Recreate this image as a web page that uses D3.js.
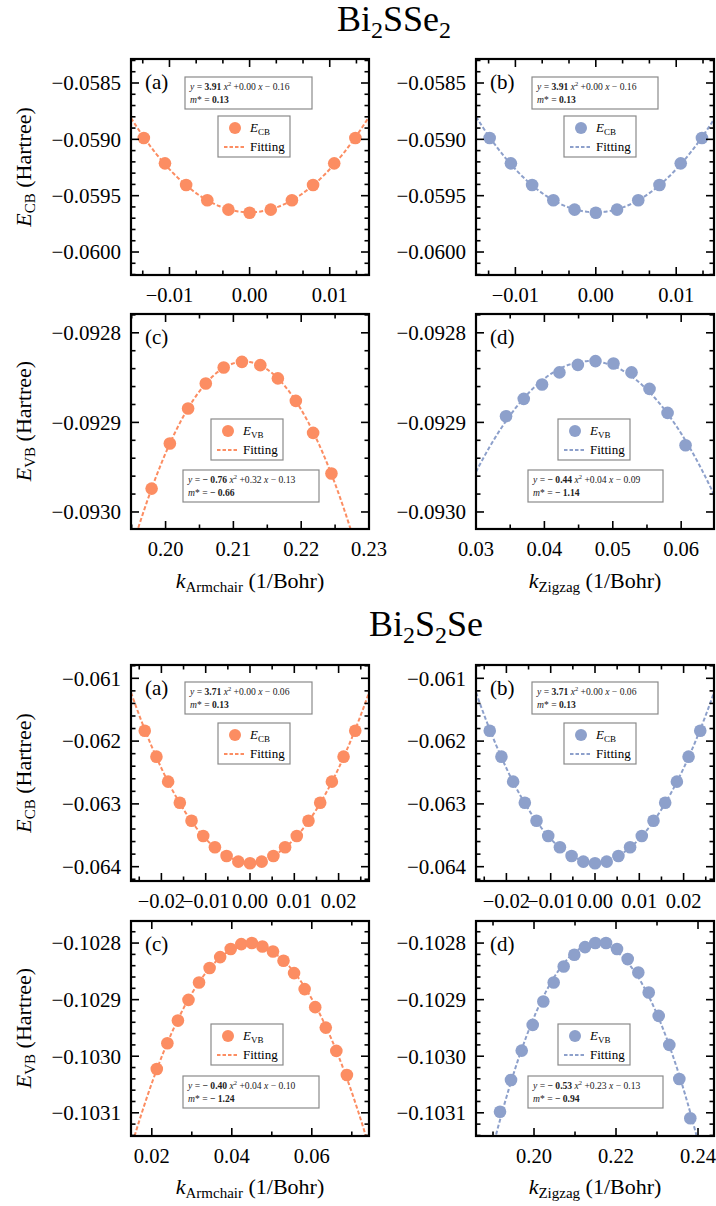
<!DOCTYPE html>
<html><head><meta charset="utf-8">
<script src="https://cdn.jsdelivr.net/npm/d3@7"></script>
<style>body{margin:0;background:#fff} svg{display:block} text{font-family:"Liberation Serif","Times New Roman",serif;fill:#000}</style>
</head><body><svg id="c" width="716" height="1206"></svg>
<script>
const ORANGE = "#FC8D62", BLUE = "#8DA0CB";

// ---------- Bi2SSe2 ----------
const kCB1 = [-0.0132, -0.01056, -0.00792, -0.00528, -0.00264, 0, 0.00264, 0.00528, 0.00792, 0.01056, 0.0132];
const eCB1 = [-0.058988, -0.059213, -0.059405, -0.059541, -0.059624, -0.059651, -0.059624, -0.059541, -0.059405, -0.059213, -0.058988];
const kVBarm1 = [0.19794, 0.20063, 0.20332, 0.20593, 0.20857, 0.21126, 0.21397, 0.21656, 0.21921, 0.22176, 0.22446];
const eVBarm1 = [-0.0929739, -0.0929236, -0.0928845, -0.0928565, -0.0928387, -0.0928324, -0.0928361, -0.0928509, -0.0928760, -0.0929117, -0.0929571];
const kVBzig1 = [0.03439, 0.03698, 0.03966, 0.04220, 0.04489, 0.04747, 0.05010, 0.05274, 0.05537, 0.05801, 0.06064];
const eVBzig1 = [-0.0928931, -0.0928737, -0.0928577, -0.0928442, -0.0928358, -0.0928316, -0.0928342, -0.0928442, -0.0928626, -0.0928894, -0.0929255];

// ---------- Bi2S2Se ----------
const kCB2 = [-0.02376, -0.02112, -0.01848, -0.01584, -0.0132, -0.01056, -0.00792, -0.00528, -0.00264, 0, 0.00264, 0.00528, 0.00792, 0.01056, 0.0132, 0.01584, 0.01848, 0.02112, 0.02376];
const eCB2 = [-0.061834, -0.062248, -0.062646, -0.062981, -0.063268, -0.063511, -0.063691, -0.063830, -0.063920, -0.063946, -0.063920, -0.063830, -0.063691, -0.063511, -0.063268, -0.062981, -0.062646, -0.062248, -0.061834];
const kVBarm2 = [0.02125, 0.02389, 0.02653, 0.02917, 0.03181, 0.03445, 0.03709, 0.03973, 0.04237, 0.04501, 0.04765, 0.05029, 0.05293, 0.05557, 0.05821, 0.06085, 0.06349, 0.06613, 0.06877];
const eVBarm2 = [-0.1030225, -0.1029770, -0.1029370, -0.1029004, -0.1028697, -0.1028442, -0.1028248, -0.1028106, -0.1028018, -0.1028000, -0.1028060, -0.1028149, -0.1028313, -0.1028531, -0.1028814, -0.1029133, -0.1029494, -0.1029906, -0.1030331];
const kVBzig2 = [0.19171, 0.19439, 0.19700, 0.19968, 0.20227, 0.20480, 0.20724, 0.20983, 0.21244, 0.21495, 0.21756, 0.22024, 0.22285, 0.22544, 0.22798, 0.23041, 0.23300, 0.23544, 0.23812];
const eVBzig2 = [-0.1030981, -0.1030419, -0.1029901, -0.1029446, -0.1029034, -0.1028697, -0.1028414, -0.1028207, -0.1028071, -0.1028000, -0.1028000, -0.1028106, -0.1028283, -0.1028520, -0.1028874, -0.1029287, -0.1029800, -0.1030402, -0.1031097];

// tick values
const yTicksCB1 = [-0.0600, -0.0595, -0.0590, -0.0585];
const yTicksVB1 = [-0.0930, -0.0929, -0.0928];
const xTicksCB1 = [-0.01, 0.00, 0.01];
const xTicksArm1 = [0.20, 0.21, 0.22, 0.23];
const xTicksZig1 = [0.03, 0.04, 0.05, 0.06];
const yTicksCB2 = [-0.064, -0.063, -0.062, -0.061];
const yTicksVB2 = [-0.1031, -0.1030, -0.1029, -0.1028];
const xTicksCB2 = [-0.02, -0.01, 0.00, 0.01, 0.02];
const xTicksArm2 = [0.02, 0.04, 0.06];
const xTicksZig2 = [0.20, 0.22, 0.24];

// fit equation texts [a, b, c, m*]
const eqCB1 = ["3.91", "+0.00", "\u2212 0.16", "0.13"];
const eqArm1 = ["\u2212 0.76", "+0.32", "\u2212 0.13", "\u2212 0.66"];
const eqZig1 = ["\u2212 0.44", "+0.04", "\u2212 0.09", "\u2212 1.14"];
const eqCB2 = ["3.71", "+0.00", "\u2212 0.06", "0.13"];
const eqArm2 = ["\u2212 0.40", "+0.04", "\u2212 0.10", "\u2212 1.24"];
const eqZig2 = ["\u2212 0.53", "+0.23", "\u2212 0.13", "\u2212 0.94"];

const svg = d3.select("#c");

function polyfit2(xs, ys) {
  const mx = d3.mean(xs), sx = d3.deviation(xs) || 1;
  const u = xs.map(x => (x - mx) / sx);
  const my = d3.mean(ys);
  const S = [0,0,0,0,0], T = [0,0,0];
  u.forEach((v, i) => {
    for (let p = 0; p < 5; p++) S[p] += Math.pow(v, p);
    for (let p = 0; p < 3; p++) T[p] += (ys[i] - my) * Math.pow(v, p);
  });
  const A = [[S[0],S[1],S[2],T[0]],[S[1],S[2],S[3],T[1]],[S[2],S[3],S[4],T[2]]];
  for (let i = 0; i < 3; i++) {
    for (let j = i + 1; j < 3; j++) {
      const f = A[j][i] / A[i][i];
      for (let k = i; k < 4; k++) A[j][k] -= f * A[i][k];
    }
  }
  const c = [0,0,0];
  for (let i = 2; i >= 0; i--) {
    let s = A[i][3];
    for (let k = i + 1; k < 3; k++) s -= A[i][k] * c[k];
    c[i] = s / A[i][i];
  }
  return x => { const v = (x - mx) / sx; return my + c[0] + c[1]*v + c[2]*v*v; };
}

let clipId = 0;
function panel(o) {
  const g = svg.append("g");
  const x = d3.scaleLinear().domain(o.xd).range([o.x0, o.x0 + o.w]);
  const y = d3.scaleLinear().domain(o.yd).range([o.y0 + o.h, o.y0]);
  const id = "clip" + (clipId++);
  svg.append("clipPath").attr("id", id).append("rect")
    .attr("x", o.x0).attr("y", o.y0).attr("width", o.w).attr("height", o.h);
  const plot = g.append("g").attr("clip-path", `url(#${id})`);
  const f = polyfit2(o.k, o.e);
  const xs = d3.range(0, 201).map(i => o.xd[0] + (o.xd[1] - o.xd[0]) * i / 200);
  plot.append("path").datum(xs)
    .attr("d", d3.line().x(d => x(d)).y(d => y(f(d))))
    .attr("fill", "none").attr("stroke", o.color).attr("stroke-width", 2)
    .attr("stroke-dasharray", "4,2.2");
  plot.selectAll("circle").data(o.k.map((k, i) => [k, o.e[i]])).enter().append("circle")
    .attr("cx", d => x(d[0])).attr("cy", d => y(d[1])).attr("r", 6.3).attr("fill", o.color);

  // ticks
  const tg = g.append("g").attr("stroke", "#000").attr("stroke-width", 1.6);
  const minorX = d3.range(Math.ceil(o.xd[0] / o.xm - 1e-6), Math.floor(o.xd[1] / o.xm + 1e-6) + 1).map(i => i * o.xm);
  const minorY = d3.range(Math.ceil(o.yd[0] / o.ym - 1e-6), Math.floor(o.yd[1] / o.ym + 1e-6) + 1).map(i => i * o.ym);
  const isMajor = (v, arr, step) => arr.some(t => Math.abs(t - v) < step * 0.01);
  const ML = 8, mL = 4.5;
  minorX.forEach(v => {
    const L = isMajor(v, o.xt, o.xm) ? ML : mL;
    const px = x(v);
    tg.append("line").attr("x1", px).attr("x2", px).attr("y1", o.y0 + o.h).attr("y2", o.y0 + o.h - L);
    tg.append("line").attr("x1", px).attr("x2", px).attr("y1", o.y0).attr("y2", o.y0 + L);
  });
  minorY.forEach(v => {
    const L = isMajor(v, o.yt, o.ym) ? ML : mL;
    const py = y(v);
    tg.append("line").attr("y1", py).attr("y2", py).attr("x1", o.x0).attr("x2", o.x0 + L);
    tg.append("line").attr("y1", py).attr("y2", py).attr("x1", o.x0 + o.w).attr("x2", o.x0 + o.w - L);
  });
  g.append("rect").attr("x", o.x0).attr("y", o.y0).attr("width", o.w).attr("height", o.h)
    .attr("fill", "none").attr("stroke", "#000").attr("stroke-width", 2.2);

  // tick labels
  const fy = d3.format(o.yf), fx = d3.format(o.xf);
  o.yt.forEach(v => {
    g.append("text").attr("x", o.x0 - 10).attr("y", y(v)).attr("dy", "0.35em")
      .attr("text-anchor", "end").attr("font-size", 21).text(fy(v));
  });
  o.xt.forEach(v => {
    g.append("text").attr("x", x(v)).attr("y", o.y0 + o.h + 27)
      .attr("text-anchor", "middle").attr("font-size", 20.5).text(fx(v));
  });

  // panel label
  g.append("text").attr("x", o.x0 + 14).attr("y", o.y0 + 30).attr("font-size", 21).text(o.label);

  // equation box
  const eb = g.append("g").attr("transform", `translate(${o.x0 + o.eq[0]},${o.y0 + o.eq[1]})`);
  eb.append("rect").attr("width", o.eq[2]).attr("height", 32).attr("fill", "#fff")
    .attr("stroke", "#8a8a8a").attr("stroke-width", 1.2);
  const t1 = eb.append("text").attr("x", 5).attr("y", 13).attr("font-size", 9.6).style("fill", "#222");
  t1.append("tspan").attr("font-style", "italic").text("y");
  t1.append("tspan").text(" = ");
  t1.append("tspan").attr("font-weight", "bold").text(o.eqT[0]);
  t1.append("tspan").text(" ");
  t1.append("tspan").attr("font-style", "italic").text("x");
  t1.append("tspan").attr("font-size", 6.5).attr("dy", -4).text("2");
  t1.append("tspan").attr("dy", 4).text(" " + o.eqT[1] + " ");
  t1.append("tspan").attr("font-style", "italic").text("x");
  t1.append("tspan").text(" " + o.eqT[2]);
  const t2 = eb.append("text").attr("x", 5).attr("y", 26).attr("font-size", 9.6).style("fill", "#222");
  t2.append("tspan").attr("font-style", "italic").text("m");
  t2.append("tspan").text("* = ");
  t2.append("tspan").attr("font-weight", "bold").text(o.eqT[3]);

  // legend
  const lg = g.append("g").attr("transform", `translate(${o.x0 + o.lg[0]},${o.y0 + o.lg[1]})`);
  lg.append("rect").attr("width", 72).attr("height", 41).attr("fill", "#fff")
    .attr("stroke", "#8a8a8a").attr("stroke-width", 1.2);
  lg.append("circle").attr("cx", 17).attr("cy", 12).attr("r", 6).attr("fill", o.color);
  const lt = lg.append("text").attr("x", 32).attr("y", 16).attr("font-size", 13);
  lt.append("tspan").attr("font-style", "italic").text("E");
  lt.append("tspan").attr("font-size", 9).attr("dy", 3).text(o.sub);
  lg.append("line").attr("x1", 6).attr("x2", 27).attr("y1", 31).attr("y2", 31)
    .attr("stroke", o.color).attr("stroke-width", 2).attr("stroke-dasharray", "3.5,2");
  lg.append("text").attr("x", 32).attr("y", 35).attr("font-size", 13).text("Fitting");
}

const LX = 131, RX = 476, W = 238;
const ROW = [[59, 216], [314, 215], [665, 216], [921, 215]];

panel({x0: LX, y0: ROW[0][0], w: W, h: ROW[0][1], xd: [-0.0148, 0.0149], yd: [-0.060204, -0.058287],
  k: kCB1, e: eCB1, color: ORANGE, xt: xTicksCB1, yt: yTicksCB1, xm: 0.0033333, ym: 0.0001, xf: ".2f", yf: ".4f",
  label: "(a)", sub: "CB", eqT: eqCB1, eq: [54, 18, 127], lg: [87, 57]});
panel({x0: RX, y0: ROW[0][0], w: W, h: ROW[0][1], xd: [-0.0149, 0.0147], yd: [-0.060204, -0.058287],
  k: kCB1, e: eCB1, color: BLUE, xt: xTicksCB1, yt: yTicksCB1, xm: 0.0033333, ym: 0.0001, xf: ".2f", yf: ".4f",
  label: "(b)", sub: "CB", eqT: eqCB1, eq: [56, 18, 126], lg: [88, 57]});
panel({x0: LX, y0: ROW[1][0], w: W, h: ROW[1][1], xd: [0.1949, 0.2300], yd: [-0.093019, -0.092779],
  k: kVBarm1, e: eVBarm1, color: ORANGE, xt: xTicksArm1, yt: yTicksVB1, xm: 0.005, ym: 0.00002, xf: ".2f", yf: ".4f",
  label: "(c)", sub: "VB", eqT: eqArm1, eq: [52, 156, 136], lg: [80, 105]});
panel({x0: RX, y0: ROW[1][0], w: W, h: ROW[1][1], xd: [0.0300, 0.0648], yd: [-0.093019, -0.092779],
  k: kVBzig1, e: eVBzig1, color: BLUE, xt: xTicksZig1, yt: yTicksVB1, xm: 0.005, ym: 0.00002, xf: ".2f", yf: ".4f",
  label: "(d)", sub: "VB", eqT: eqZig1, eq: [52, 156, 135], lg: [82, 105]});
panel({x0: LX, y0: ROW[2][0], w: W, h: ROW[2][1], xd: [-0.02686, 0.02686], yd: [-0.064228, -0.060788],
  k: kCB2, e: eCB2, color: ORANGE, xt: xTicksCB2, yt: yTicksCB2, xm: 0.005, ym: 0.0002, xf: ".2f", yf: ".3f",
  label: "(a)", sub: "CB", eqT: eqCB2, eq: [54, 17, 127], lg: [87, 58]});
panel({x0: RX, y0: ROW[2][0], w: W, h: ROW[2][1], xd: [-0.02686, 0.02686], yd: [-0.064228, -0.060788],
  k: kCB2, e: eCB2, color: BLUE, xt: xTicksCB2, yt: yTicksCB2, xm: 0.005, ym: 0.0002, xf: ".2f", yf: ".3f",
  label: "(b)", sub: "CB", eqT: eqCB2, eq: [56, 17, 126], lg: [88, 58]});
panel({x0: LX, y0: ROW[3][0], w: W, h: ROW[3][1], xd: [0.0148, 0.0743], yd: [-0.103141, -0.102761],
  k: kVBarm2, e: eVBarm2, color: ORANGE, xt: xTicksArm2, yt: yTicksVB2, xm: 0.01, ym: 0.00002, xf: ".2f", yf: ".4f",
  label: "(c)", sub: "VB", eqT: eqArm2, eq: [52, 155, 136], lg: [80, 103]});
panel({x0: RX, y0: ROW[3][0], w: W, h: ROW[3][1], xd: [0.18585, 0.2439], yd: [-0.103141, -0.102761],
  k: kVBzig2, e: eVBzig2, color: BLUE, xt: xTicksZig2, yt: yTicksVB2, xm: 0.01, ym: 0.00002, xf: ".2f", yf: ".4f",
  label: "(d)", sub: "VB", eqT: eqZig2, eq: [52, 155, 135], lg: [82, 103]});

// axis titles
function yTitle(cy, sub) {
  const t = svg.append("text").attr("transform", `translate(31,${cy}) rotate(-90)`)
    .attr("text-anchor", "middle").attr("font-size", 22);
  t.append("tspan").attr("font-style", "italic").text("E");
  t.append("tspan").attr("font-size", 15).attr("dy", 4).text(sub);
  t.append("tspan").attr("dy", -4).text(" (Hartree)");
}
yTitle(167, "CB"); yTitle(421, "VB"); yTitle(773, "CB"); yTitle(1028, "VB");
function xTitle(cx, cy, sub) {
  const t = svg.append("text").attr("x", cx).attr("y", cy).attr("text-anchor", "middle").attr("font-size", 22);
  t.append("tspan").attr("font-style", "italic").text("k");
  t.append("tspan").attr("font-size", 15).attr("dy", 4).text(sub);
  t.append("tspan").attr("dy", -4).text(" (1/Bohr)");
}
xTitle(250, 588, "Armchair"); xTitle(595, 588, "Zigzag");
xTitle(250, 1194, "Armchair"); xTitle(595, 1194, "Zigzag");

function title(cx, cy, parts) {
  const t = svg.append("text").attr("x", cx).attr("y", cy).attr("text-anchor", "middle").attr("font-size", 36);
  parts.forEach(p => {
    if (p.sub) t.append("tspan").attr("font-size", 24).attr("dy", 7).text(p.s);
    else t.append("tspan").attr("dy", p.after ? -7 : 0).text(p.s);
  });
}
title(394, 31, [{s: "Bi"}, {s: "2", sub: 1}, {s: "SSe", after: 1}, {s: "2", sub: 1}]);
title(426, 636, [{s: "Bi"}, {s: "2", sub: 1}, {s: "S", after: 1}, {s: "2", sub: 1}, {s: "Se", after: 1}]);
</script></body></html>
